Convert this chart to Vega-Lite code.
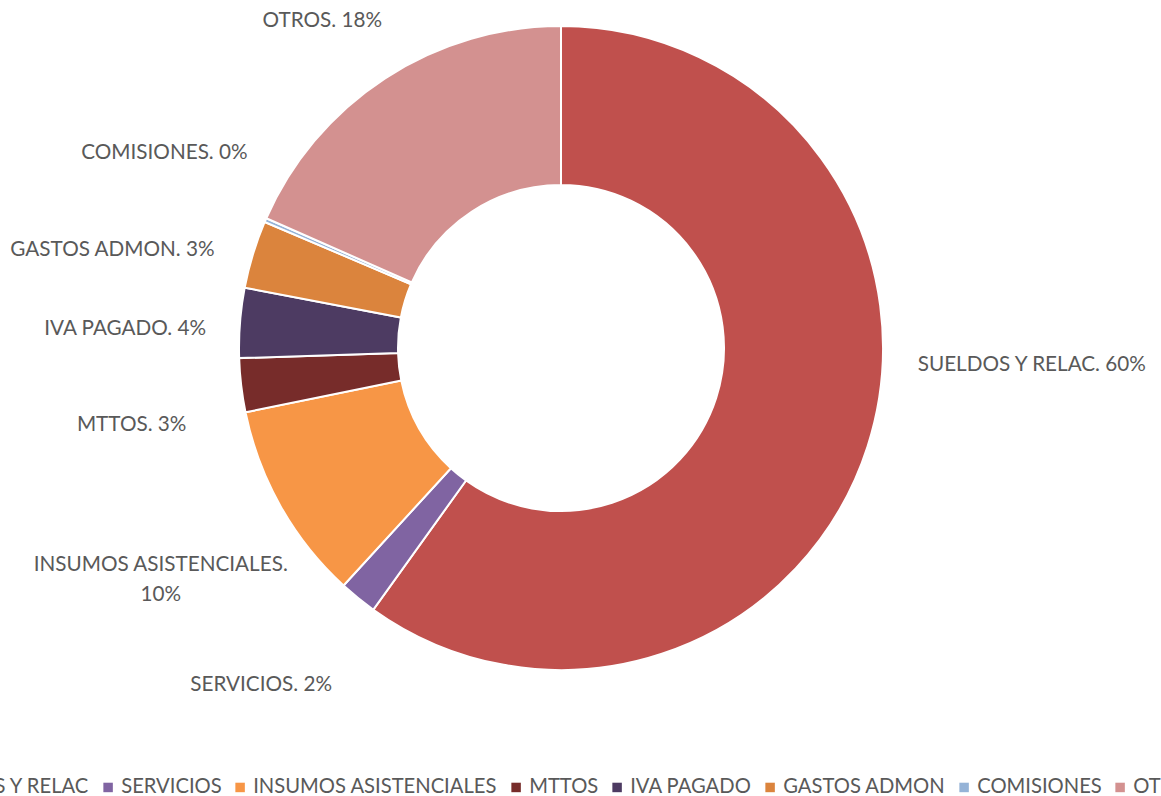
{
  "$schema": "https://vega.github.io/schema/vega-lite/v6.json",
  "width": 1122,
  "height": 696,
  "autosize": {"type": "none"},
  "padding": {"left": 0, "top": 0, "right": 39, "bottom": 100},
  "background": "white",
  "config": {"view": {"stroke": null}, "font": "Lato"},
  "data": {"values": [
    {"cat": "SUELDOS Y RELAC", "value": 59.9, "label": "SUELDOS Y RELAC. 60%"},
    {"cat": "SERVICIOS", "value": 1.9, "label": "SERVICIOS. 2%"},
    {"cat": "INSUMOS ASISTENCIALES", "value": 10.0, "label": "INSUMOS ASISTENCIALES.\n10%"},
    {"cat": "MTTOS", "value": 2.7, "label": "MTTOS. 3%"},
    {"cat": "IVA PAGADO", "value": 3.5, "label": "IVA PAGADO. 4%"},
    {"cat": "GASTOS ADMON", "value": 3.4, "label": "GASTOS ADMON. 3%"},
    {"cat": "COMISIONES", "value": 0.2, "label": "COMISIONES. 0%"},
    {"cat": "OTROS", "value": 18.4, "label": "OTROS. 18%"}
  ]},
  "transform": [
    {"stack": "value", "groupby": [], "as": ["v0", "v1"]},
    {"calculate": "(datum.v0 + datum.v1) / 2", "as": "mid"}
  ],
  "layer": [
    {
      "mark": {"type": "arc", "outerRadius": 322, "innerRadius": 163, "stroke": "white", "strokeWidth": 2},
      "encoding": {
        "theta": {"field": "v0", "type": "quantitative", "scale": {"domain": [0, 100]}},
        "theta2": {"field": "v1"},
        "color": {
          "field": "cat", "type": "nominal",
          "scale": {
            "domain": ["SUELDOS Y RELAC", "SERVICIOS", "INSUMOS ASISTENCIALES", "MTTOS", "IVA PAGADO", "GASTOS ADMON", "COMISIONES", "OTROS"],
            "range": ["#C0504D", "#8064A2", "#F79646", "#772C2A", "#4D3B62", "#DB843D", "#95B3D7", "#D39190"]
          },
          "legend": {
            "orient": "none", "legendX": -108, "legendY": 777, "direction": "horizontal", "title": null,
            "symbolType": "square", "symbolSize": 90, "symbolStrokeWidth": 0,
            "labelFont": "Lato", "labelFontSize": 20.2, "labelColor": "#595959",
            "columnPadding": 8, "labelOffset": 3, "padding": 0, "labelLimit": 1000
          }
        }
      }
    },
    {
      "transform": [{"filter": "datum.cat === 'SUELDOS Y RELAC'"}],
      "mark": {"type": "text", "radius": 360, "align": "left", "baseline": "middle", "dx": 14, "dy": -93, "fontSize": 20.7, "color": "#595959"},
      "encoding": {"theta": {"field": "mid", "type": "quantitative"}, "text": {"field": "label"}}
    },
    {
      "transform": [{"filter": "datum.cat === 'SERVICIOS'"}],
      "mark": {"type": "text", "radius": 360, "align": "center", "baseline": "middle", "dx": -73, "dy": 57, "fontSize": 20.7, "color": "#595959"},
      "encoding": {"theta": {"field": "mid", "type": "quantitative"}, "text": {"field": "label"}}
    },
    {
      "transform": [{"filter": "datum.cat === 'INSUMOS ASISTENCIALES'"}],
      "mark": {"type": "text", "radius": 360, "align": "center", "baseline": "middle", "dx": -87, "dy": 40, "fontSize": 20.7, "color": "#595959", "lineBreak": "\n", "lineHeight": 29.5},
      "encoding": {"theta": {"field": "mid", "type": "quantitative"}, "text": {"field": "label"}}
    },
    {
      "transform": [{"filter": "datum.cat === 'MTTOS'"}],
      "mark": {"type": "text", "radius": 360, "align": "right", "baseline": "middle", "dx": -17, "dy": 35, "fontSize": 20.7, "color": "#595959"},
      "encoding": {"theta": {"field": "mid", "type": "quantitative"}, "text": {"field": "label"}}
    },
    {
      "transform": [{"filter": "datum.cat === 'IVA PAGADO'"}],
      "mark": {"type": "text", "radius": 360, "align": "right", "baseline": "middle", "dx": 4, "dy": 9, "fontSize": 20.7, "color": "#595959"},
      "encoding": {"theta": {"field": "mid", "type": "quantitative"}, "text": {"field": "label"}}
    },
    {
      "transform": [{"filter": "datum.cat === 'GASTOS ADMON'"}],
      "mark": {"type": "text", "radius": 360, "align": "right", "baseline": "middle", "dx": -2, "dy": 7, "fontSize": 20.7, "color": "#595959"},
      "encoding": {"theta": {"field": "mid", "type": "quantitative"}, "text": {"field": "label"}}
    },
    {
      "transform": [{"filter": "datum.cat === 'COMISIONES'"}],
      "mark": {"type": "text", "radius": 360, "align": "right", "baseline": "middle", "dx": 17, "dy": -52, "fontSize": 20.7, "color": "#595959"},
      "encoding": {"theta": {"field": "mid", "type": "quantitative"}, "text": {"field": "label"}}
    },
    {
      "transform": [{"filter": "datum.cat === 'OTROS'"}],
      "mark": {"type": "text", "radius": 360, "align": "center", "baseline": "middle", "dx": -42, "dy": -25, "fontSize": 20.7, "color": "#595959"},
      "encoding": {"theta": {"field": "mid", "type": "quantitative"}, "text": {"field": "label"}}
    }
  ]
}
